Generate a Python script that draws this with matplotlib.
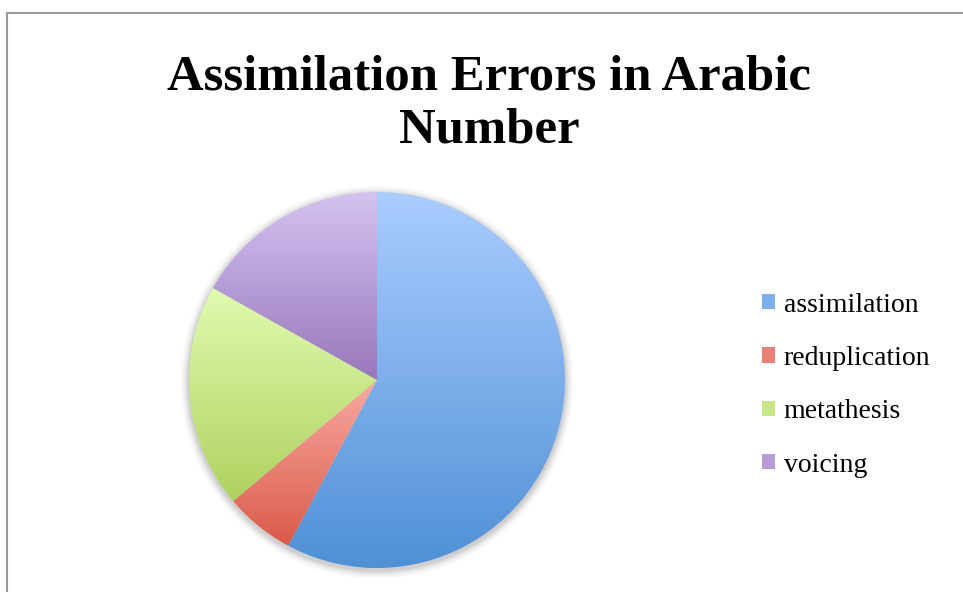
import numpy as np
import matplotlib
matplotlib.use("Agg")
import matplotlib.pyplot as plt
from matplotlib.colors import LinearSegmentedColormap
from matplotlib.patches import Patch, Circle
from matplotlib.lines import Line2D

# Error counts by type
categories = ["assimilation", "reduplication", "metathesis", "voicing"]
counts = [48, 5, 16, 14]

# (top colour, bottom colour) for each slice's vertical gradient
gradients = [
    ("#aacdff", "#4f90d6"),
    ("#f9aaa2", "#d95a49"),
    ("#e1fbb0", "#aed25f"),
    ("#d4c3f1", "#9877bb"),
]

title = "Assimilation Errors in Arabic\nNumber"

fig = plt.figure(figsize=(9.63, 5.92), dpi=100)
fig.patch.set_facecolor("white")

# Chart-area frame (top and left edges)
fig.add_artist(Line2D([7 / 963, 7 / 963], [0, 1 - 12.5 / 592],
                      transform=fig.transFigure, color="#9a9a9a", lw=1.5))
fig.add_artist(Line2D([7 / 963, 1], [1 - 12.5 / 592, 1 - 12.5 / 592],
                      transform=fig.transFigure, color="#9a9a9a", lw=1.5))

pad = 1.05
ax = fig.add_axes([(377 - 188 * pad) / 963, (212 - 188 * pad) / 592,
                   376 * pad / 963, 376 * pad / 592])
ax.axis("off")

# Soft drop shadow under the pie
for i, a in enumerate(np.linspace(0.05, 0.012, 6)):
    ax.add_patch(Circle((0.0, -0.012), 1.0 + 0.008 * (i + 1), color="black",
                        alpha=a, lw=0, zorder=0))

wedges, _ = ax.pie(counts, startangle=90, counterclock=False, radius=1.0,
                   wedgeprops=dict(facecolor="none", edgecolor="none"))

for w, (top, bot) in zip(wedges, gradients):
    w.set_zorder(2)
    verts = w.get_path().vertices
    ymin, ymax = verts[:, 1].min(), verts[:, 1].max()
    cmap = LinearSegmentedColormap.from_list("g", [bot, top])
    grad = np.linspace(0, 1, 256).reshape(-1, 1)
    im = ax.imshow(grad, cmap=cmap, origin="lower", aspect="auto",
                   extent=[-1.01, 1.01, ymin, ymax], zorder=1,
                   interpolation="bilinear")
    im.set_clip_path(w)

ax.set_xlim(-pad, pad)
ax.set_ylim(-pad, pad)
ax.set_aspect("equal")

mid_colors = [LinearSegmentedColormap.from_list("g", [b, t])(0.5) for t, b in gradients]
handles = [Patch(facecolor=c, edgecolor="none") for c in mid_colors]
fig.legend(handles, categories, loc="center left",
           bbox_to_anchor=(762 / 963, 1 - 385 / 592),
           frameon=False, prop=dict(family="Liberation Serif", size=20),
           handlelength=0.48, handleheight=0.48, handletextpad=0.3,
           labelspacing=1.02, borderaxespad=0, borderpad=0)

fig.text(489 / 963, 1 - 104 / 592, title, ha="center", va="center",
         family="Liberation Serif", weight="bold", size=36.5, linespacing=1.22)

fig.savefig("out.png", dpi=100, facecolor="white")
